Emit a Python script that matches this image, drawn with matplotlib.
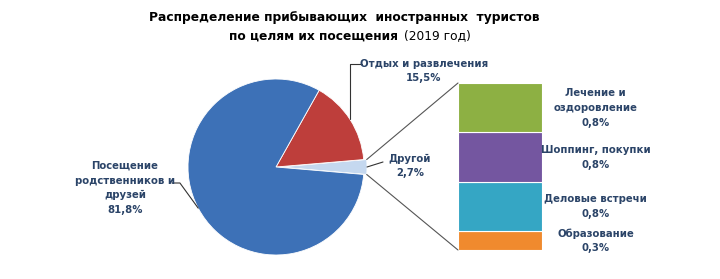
import matplotlib
matplotlib.use('Agg')
import matplotlib.pyplot as plt
from matplotlib.patches import ConnectionPatch
import numpy as np

# данные
main_labels = ['Посещение\nродственников и\nдрузей', 'Отдых и развлечения', 'Другой']
main_values = [81.8, 15.5, 2.7]
main_colors = ['#3D71B7', '#BE3E3B', '#C5D8EF']

other_labels = ['Образование', 'Деловые встречи', 'Шоппинг, покупки', 'Лечение и\nоздоровление']
other_values = [0.3, 0.8, 0.8, 0.8]
other_colors = ['#F08A2E', '#35A6C4', '#7456A0', '#8DB043']

title_line1 = 'Распределение прибывающих  иностранных  туристов'
title_line2 = 'по целям их посещения'
title_year = '(2019 год)'

W, H = 720, 279
txt_color = '#2B4468'
font = 'DejaVu Sans'
lab_kw = dict(fontsize=7.3, fontweight='bold', color=txt_color, fontfamily=font,
              linespacing=1.6, ha='center', va='center', clip_on=False)

fig = plt.figure(figsize=(W / 100, H / 100), dpi=100)
fig.patch.set_facecolor('white')

# круговая диаграмма: центр (276, 167) px, 100 px на единицу
cx, cy, R = 276, 167, 0.88
ax = fig.add_axes([(cx - 100) / W, (H - cy - 100) / H, 200 / W, 200 / H])

# порядок: "Другой" справа по центру, затем против часовой стрелки
order = [2, 1, 0]
vals = [main_values[i] for i in order]
cols = [main_colors[i] for i in order]
start = -main_values[2] / 100 * 360 / 2
expl = [0.03, 0, 0]
wedges, _ = ax.pie(vals, colors=cols, startangle=start, radius=R, explode=expl,
                   counterclock=True,
                   wedgeprops=dict(edgecolor='#FFFFFF', linewidth=0.6))
ax.set_xlim(-1, 1)
ax.set_ylim(-1, 1)
ax.axis('off')

def edge_point(w, ang, r=None):
    rr = w.r if r is None else r
    return (w.center[0] + rr * np.cos(np.radians(ang)),
            w.center[1] + rr * np.sin(np.radians(ang)))

w_other, w_rest, w_main = wedges
lkw = dict(color='#333333', lw=0.8)

def fmt(v):
    return f'{v:.1f}%'.replace('.', ',')

# подпись "Отдых и развлечения"
mid = (w_rest.theta1 + w_rest.theta2) / 2
ax.annotate('', xy=edge_point(w_rest, mid), xytext=(0.86, 1.03),
            arrowprops=dict(arrowstyle='-', connectionstyle='angle,angleA=180,angleB=90,rad=0',
                            shrinkA=0, shrinkB=0, **lkw))
ax.text(1.48, 0.96, main_labels[1] + '\n' + fmt(main_values[1]), **lab_kw)

# подпись "Другой"
ax.annotate('', xy=edge_point(w_other, 0), xytext=(1.07, 0.05),
            arrowprops=dict(arrowstyle='-', shrinkA=0, shrinkB=0, **lkw))
ax.text(1.34, 0.01, main_labels[2] + '\n' + fmt(main_values[2]), **lab_kw)

# подпись "Посещение родственников и друзей"
mid = (w_main.theta1 + w_main.theta2) / 2
ax.annotate('', xy=edge_point(w_main, mid), xytext=(-1.04, -0.16),
            arrowprops=dict(arrowstyle='-', connectionstyle='angle,angleA=0,angleB=-54,rad=0',
                            shrinkA=0, shrinkB=0, **lkw))
ax.text(-1.51, -0.21, main_labels[0] + '\n' + fmt(main_values[0]), **lab_kw)

# столбец "Другой": x 458..542, y 83..250 px
bx0, bx1, by0, by1 = 458, 542, 83, 250
ax2 = fig.add_axes([bx0 / W, (H - by1) / H, (bx1 - bx0) / W, (by1 - by0) / H])
total = sum(other_values)
bottom = 0
for lab, v, c in zip(other_labels, other_values, other_colors):
    ax2.bar(0, v, width=1, bottom=bottom, color=c, edgecolor='#FFFFFF', linewidth=0.8)
    ax2.text(1.14, bottom + v / 2, lab + '\n' + fmt(v), **lab_kw)
    bottom += v
ax2.set_xlim(-0.5, 0.5)
ax2.set_ylim(0, total)
ax2.axis('off')

# линии от сектора "Другой" к столбцу
for ang, yb in [(w_other.theta2, total), (w_other.theta1, 0)]:
    con = ConnectionPatch(xyA=edge_point(w_other, ang), coordsA=ax.transData,
                          xyB=(-0.5, yb), coordsB=ax2.transData, color='#555555', lw=0.8)
    fig.add_artist(con)

# заголовок
fig.text(344 / W, 1 - 18 / H, title_line1, ha='center', va='center', fontsize=8.8,
         fontweight='bold', color='black', fontfamily=font)
fig.text(398 / W, 1 - 36 / H, title_line2, ha='right', va='center', fontsize=8.8,
         fontweight='bold', color='black', fontfamily=font)
fig.text(404 / W, 1 - 36 / H, title_year, ha='left', va='center', fontsize=8.8,
         color='black', fontfamily=font)

fig.savefig('out.png', dpi=100, facecolor='white')
